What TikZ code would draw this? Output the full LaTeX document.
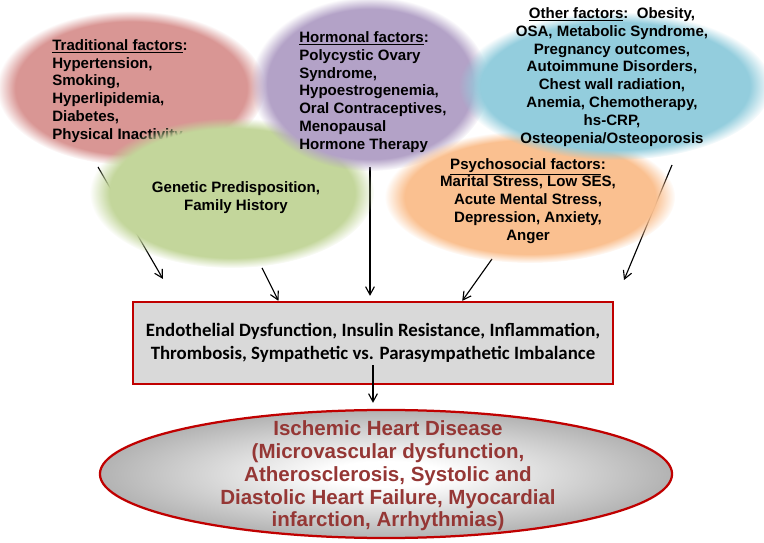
\documentclass[tikz,border=0pt]{standalone}
\usepackage{fontspec}
\setmainfont{Liberation Sans}
\newfontfamily\calibfont{Carlito}
\usepackage{xcolor}
\usetikzlibrary{arrows.meta,calc,fadings,shapes.geometric}
\definecolor{tradred}{HTML}{D99694}
\definecolor{hormviolet}{HTML}{B3A2C7}
\definecolor{othblue}{HTML}{93CDDD}
\definecolor{genegreen}{HTML}{C3D69B}
\definecolor{psyorange}{HTML}{FAC090}
\definecolor{boxgray}{HTML}{D9D9D9}
\definecolor{ihdred}{HTML}{C00000}
\definecolor{ihdtext}{HTML}{953735}
\pgfdeclareradialshading{softrimshade}{\pgfpointorigin}{color(0bp)=(pgftransparent!0);
  color(21.5bp)=(pgftransparent!0); color(25bp)=(pgftransparent!100);
  color(50bp)=(pgftransparent!100)}
\pgfdeclarefading{softrim}{\pgfuseshading{softrimshade}}
\pgfdeclareradialshading{ihdshade}{\pgfpointorigin}{color(0bp)=(white);
  color(5bp)=(white); color(25bp)=(black!30); color(50bp)=(black!30)}

\begin{document}
\begin{tikzpicture}[
    x=0.025cm,y=-0.025cm,
    factor/.style = {ellipse, draw=none, inner sep=0pt, path fading=softrim},
    ftxt/.style   = {font=\fontsize{10.7}{12.7}\selectfont\bfseries, inner sep=0pt},
    mech/.style   = {draw=ihdred, line width=1.6pt, fill=boxgray,
                     minimum width=12cm, minimum height=2.05cm, align=center,
                     font=\calibfont\fontsize{13.4}{16.4}\selectfont\bfseries},
    ihd/.style    = {ellipse, draw=ihdred, line width=1.6pt, shading=ihdshade,
                     minimum width=14.3cm, minimum height=3.2cm, inner sep=0pt},
    ihdtxt/.style = {font=\fontsize{14.6}{16.2}\selectfont\bfseries, text=ihdtext,
                     align=center, inner sep=0pt},
    arr/.style    = {-{Straight Barb[length=2mm,width=2.2mm]}, line width=0.8pt},
  ]
  \useasboundingbox (0,0) rectangle (764,543);

  % mechanisms and outcome
  \node[mech] (box) at (373,343)
       {Endothelial Dysfunction, Insulin Resistance, Inflammation,\\
        Thrombosis, Sympathetic vs. Parasympathetic Imbalance};

  \node[ihd] (ihd) at (386,474) {};
  \node[ihdtxt] (ihdtxt) at (388,476)
       {Ischemic Heart Disease\\(Microvascular dysfunction,\\
        Atherosclerosis, Systolic and\\Diastolic Heart Failure, Myocardial\\
        infarction, Arrhythmias)};

  \draw[arr,shorten <=-0.5cm,shorten >=0.15cm] (box.south) -- (box.south |- ihd.north);

  % arrows leave from under the clouds
  \coordinate (tradout) at (98,167);
  \coordinate (tradtip) at (163,279);
  \coordinate (genout)  at (262,268);
  \coordinate (hormout) at (370,167);
  \coordinate (psyout)  at (492,259);
  \coordinate (othout)  at (672,165);
  \coordinate (othtip)  at (624,280);
  \coordinate (genin) at ($(box.north west)!.304!(box.north east)$);
  \coordinate (psyin) at ($(box.north west)!.685!(box.north east)$);

  \draw[arr] (tradout) -- (tradtip);
  \draw[arr] (genout) -- (genin);
  \draw[arr,shorten >=0.125cm] (hormout) -- (hormout |- box.north);
  \draw[arr] (psyout) -- (psyin);
  \draw[arr] (othout) -- (othtip);

  % risk factor clouds
  \node[factor, fill=tradred, minimum width=6.7cm, minimum height=3.85cm]
       (trad) at (131,88) {};
  \node[ftxt, anchor=west, align=left] (tradtxt) at (52,91)
       {\underline{Traditional factors}:\\Hypertension,\\Smoking,\\
        Hyperlipidemia,\\Diabetes,\\Physical Inactivity};

  \node[factor, fill=genegreen, minimum width=7.1cm, minimum height=3.75cm]
       (gen) at (232,193) {};
  \node[ftxt, align=center] (gentxt) at (236,198)
       {Genetic Predisposition,\\Family History};

  \node[factor, fill=hormviolet, minimum width=5.95cm, minimum height=4.35cm]
       (horm) at (370,84) {};
  \node[ftxt, anchor=west, align=left] (hormtxt) at (299,92)
       {\underline{Hormonal factors}:\\Polycystic Ovary\\Syndrome,\\
        Hypoestrogenemia,\\Oral Contraceptives,\\Menopausal\\Hormone Therapy};

  \node[factor, fill=psyorange, minimum width=7.25cm, minimum height=3.3cm]
       (psy) at (530,197) {};
  \node[ftxt, align=center] (psytxt) at (528,201)
       {\underline{Psychosocial factors}:\\Marital Stress, Low SES,\\
        Acute Mental Stress,\\Depression, Anxiety,\\Anger};

  \node[factor, fill=othblue, minimum width=7.8cm, minimum height=3.7cm]
       (oth) at (615,86) {};
  \node[ftxt, align=center] (othtxt) at (612,77)
       {\underline{Other factors}:\ \ Obesity,\\OSA, Metabolic Syndrome,\\
        Pregnancy outcomes,\\Autoimmune Disorders,\\Chest wall radiation,\\
        Anemia, Chemotherapy,\\hs-CRP,\\Osteopenia/Osteoporosis};

\end{tikzpicture}
\end{document}
